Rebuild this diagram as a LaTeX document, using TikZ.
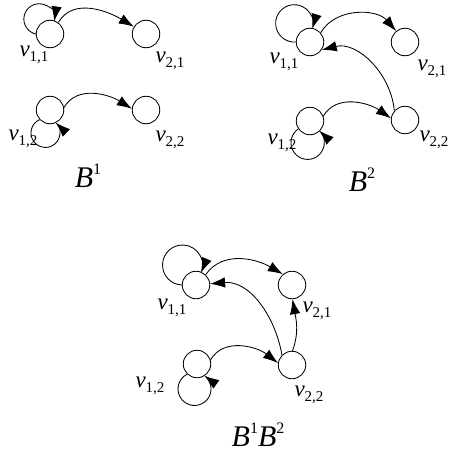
\documentclass[tikz,border=0pt]{standalone}
\usepackage{fontspec}
\setmainfont{Liberation Serif}
\usetikzlibrary{arrows.meta}
\newcommand{\vlab}[1]{{\fontsize{23}{23}\selectfont\itshape v}\raisebox{-5pt}{\fontsize{15}{15}\selectfont #1}}
\newcommand{\Bsym}[1]{{\fontsize{30}{30}\selectfont\itshape B}\raisebox{13pt}{\fontsize{16}{16}\selectfont #1}}
\begin{document}
\begin{tikzpicture}[x=1pt,y=1pt,
  vert/.style={draw,circle,minimum size=27.5pt,inner sep=0pt,line width=0.85pt},
  conn/.style={line width=0.85pt,-{Latex[length=15pt,width=10.5pt]}},
  lbl/.style={inner sep=0pt,anchor=center}]
\useasboundingbox (0,0) rectangle (450,-455);
% ---- B^1 ----
\node[vert] (a11) at (50,-34) {};
\node[vert] (a21) at (146,-34) {};
\node[vert] (a12) at (50,-110) {};
\node[vert] (a22) at (146,-110) {};
\draw[conn] (a11.west) arc[start angle=257.5,end angle=-8.8,radius=15.3];
\draw[conn] (a11.54) to[out=60,in=149] (a21.149);
\draw[conn] (a12.223) arc[start angle=113.8,end angle=406.1,radius=14.5];
\draw[conn] (a12.10) to[out=60,in=148] (a22.175);
\node[lbl] (la11) at (34,-55) {\vlab{1,1}};
\node[lbl] (la21) at (170,-61) {\vlab{2,1}};
\node[lbl] (la12) at (23,-139) {\vlab{1,2}};
\node[lbl] (la22) at (170,-140) {\vlab{2,2}};
\node[lbl] (ta) at (88,-176) {\Bsym{1}};
% ---- B^2 ----
\node[vert] (b11) at (310,-42) {};
\node[vert] (b21) at (405,-42) {};
\node[vert] (b12) at (310,-121) {};
\node[vert] (b22) at (405,-120) {};
\draw[conn] (b11.west) arc[start angle=274.6,end angle=-17.1,radius=18.7];
\draw[conn] (b11.41) to[out=60,in=131] (b21.129);
\draw[conn] (b12.214.7) arc[start angle=124.3,end angle=406.7,radius=16.7];
\draw[conn] (b12.20) to[out=60,in=145] (b22.173);
\draw[conn] (b22.139) to[out=95,in=14] (b11.-34);
\node[lbl] (lb11) at (284,-62) {\vlab{1,1}};
\node[lbl] (lb21) at (432,-69) {\vlab{2,1}};
\node[lbl] (lb12) at (282,-143) {\vlab{1,2}};
\node[lbl] (lb22) at (434,-140) {\vlab{2,2}};
\node[lbl] (tb) at (362,-180) {\Bsym{2}};
% ---- B^1 B^2 ----
\node[vert] (c11) at (196,-285) {};
\node[vert] (c21) at (292,-285) {};
\node[vert] (c12) at (197,-364) {};
\node[vert] (c22) at (292,-365) {};
\draw[conn] (c11.west) arc[start angle=268,end angle=-22.8,radius=20];
\draw[conn] (c11.47) to[out=55,in=150] (c21.130);
\draw[conn] (c12.226) arc[start angle=116.5,end angle=414.2,radius=16.5];
\draw[conn] (c12.17) to[out=60,in=142] (c22.172);
\draw[conn] (c22.135) to[out=100,in=5] (c11.5);
\draw[conn] (c22.88) to[out=70,in=-80] (c21.-88);
\node[lbl] (lc11) at (172,-308) {\vlab{1,1}};
\node[lbl] (lc21) at (317,-311) {\vlab{2,1}};
\node[lbl] (lc12) at (150,-386) {\vlab{1,2}};
\node[lbl] (lc22) at (309,-395) {\vlab{2,2}};
\node[lbl] (tc) at (258,-435) {\Bsym{1}\Bsym{2}};
\end{tikzpicture}
\end{document}
